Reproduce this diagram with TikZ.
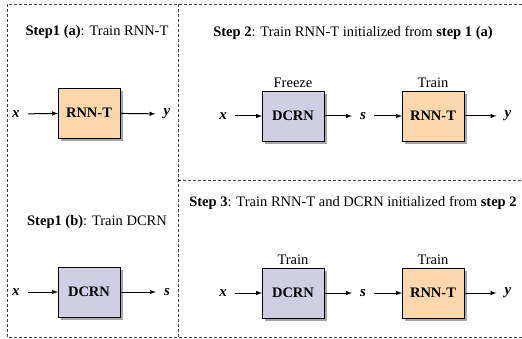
\documentclass[tikz,border=0pt]{standalone}
\usepackage{fontspec}
\setmainfont{Liberation Serif}
\usepackage{tikz}
\usetikzlibrary{arrows,positioning,shadows}

\definecolor{rnntfill}{HTML}{FAD7AC}
\definecolor{dcrnfill}{HTML}{D0CEE2}

\tikzset{
	blockbox/.style={draw,line width=0.9pt,minimum width=62pt,minimum height=50pt,outer sep=0pt,
		font=\fontsize{14.5}{16}\selectfont\bfseries,
		drop shadow={shadow xshift=3pt,shadow yshift=-3pt,fill=black!35,opacity=1}},
	rnnt/.style={blockbox,fill=rnntfill},
	dcrn/.style={blockbox,fill=dcrnfill},
	var/.style={inner sep=8pt,font=\fontsize{15}{17}\selectfont\bfseries\itshape},
	note/.style={inner sep=1pt,font=\fontsize{14.5}{16}\selectfont},
	flow/.style={-latex,line width=1pt},
	frame/.style={black!75,line width=0.7pt,dash pattern=on 3pt off 2pt}
}

\begin{document}
\begin{tikzpicture}[x=1pt,y=-1pt]
	\useasboundingbox (0,0) rectangle (522,339);

	% panel borders
	\draw[frame] (522,4) -- (7,4) -- (7,337) -- (522,337);
	\draw[frame] (178,4) -- (178,337);
	\draw[frame] (178,180) -- (522,180);

	% step 1 (a)
	\node[note] (t1a) at (97,32) {\textbf{Step1 (a)}: Train RNN-T};
	\node[var] (x1a) at (16,114) {x};
	\node[rnnt] (r1a) at (89,113) {RNN-T};
	\node[var] (y1a) at (167,114) {y};
	\draw[flow] (x1a) -- (r1a);
	\draw[flow] (r1a) -- (y1a);

	% step 1 (b)
	\node[note] (t1b) at (97,222) {\textbf{Step1 (b)}: Train DCRN};
	\node[var] (x1b) at (16,292) {x};
	\node[dcrn] (d1b) at (89,292) {DCRN};
	\node[var] (s1b) at (167,292) {s};
	\draw[flow] (x1b) -- (d1b);
	\draw[flow] (d1b) -- (s1b);

	% step 2
	\node[note] (t2) at (353,33) {\textbf{Step 2}: Train RNN-T initialized from \textbf{step 1 (a)}};
	\node[var] (x2) at (223,116) {x};
	\node[dcrn] (d2) at (293,116) {DCRN};
	\node[var] (s2) at (363,116) {s};
	\node[rnnt] (r2) at (433,116) {RNN-T};
	\node[var] (y2) at (508,116) {y};
	\node[note,above=2pt of d2] (f2) {Freeze};
	\node[note,above=2pt of r2] (n2) {Train};
	\draw[flow] (x2) -- (d2);
	\draw[flow] (d2) -- (s2);
	\draw[flow] (s2) -- (r2);
	\draw[flow] (r2) -- (y2);

	% step 3
	\node[note] (t3) at (353,203) {\textbf{Step 3}: Train RNN-T and DCRN initialized from \textbf{step 2}};
	\node[var] (x3) at (223,293) {x};
	\node[dcrn] (d3) at (293,293) {DCRN};
	\node[var] (s3) at (363,293) {s};
	\node[rnnt] (r3) at (433,293) {RNN-T};
	\node[var] (y3) at (508,293) {y};
	\node[note,above=2pt of d3] (n3a) {Train};
	\node[note,above=2pt of r3] (n3b) {Train};
	\draw[flow] (x3) -- (d3);
	\draw[flow] (d3) -- (s3);
	\draw[flow] (s3) -- (r3);
	\draw[flow] (r3) -- (y3);
\end{tikzpicture}
\end{document}
